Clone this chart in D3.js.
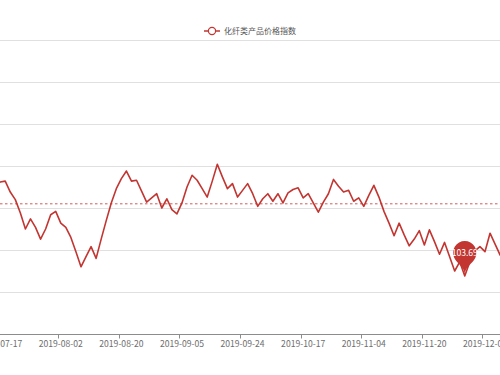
<!DOCTYPE html>
<html>
<head>
<meta charset="utf-8">
<script src="https://cdn.jsdelivr.net/npm/d3@7"></script>
<style>
  body { margin: 0; background: #fff; }
  svg { display: block; }
</style>
</head>
<body>
<div id="vis"></div>
<script>
let WIDTH = 500;
let HEIGHT = 375;
let GRID = {top: 40, bottom: 334};
const FONT = "'Noto Sans CJK SC', 'Noto Sans', sans-serif";

const seriesName = "化纤类产品价格指数";

// trading days (visible window of a longer series)
const dates = [
  "2019-07-16", "2019-07-17", "2019-07-18", "2019-07-19", "2019-07-22", "2019-07-23", "2019-07-24",
  "2019-07-25", "2019-07-26", "2019-07-29", "2019-07-30", "2019-07-31", "2019-08-01", "2019-08-02",
  "2019-08-05", "2019-08-06", "2019-08-07", "2019-08-08", "2019-08-09", "2019-08-12", "2019-08-13",
  "2019-08-14", "2019-08-15", "2019-08-16", "2019-08-19", "2019-08-20", "2019-08-21", "2019-08-22",
  "2019-08-23", "2019-08-26", "2019-08-27", "2019-08-28", "2019-08-29", "2019-08-30", "2019-09-02",
  "2019-09-03", "2019-09-04", "2019-09-05", "2019-09-06", "2019-09-09", "2019-09-10", "2019-09-11",
  "2019-09-12", "2019-09-16", "2019-09-17", "2019-09-18", "2019-09-19", "2019-09-20", "2019-09-23",
  "2019-09-24", "2019-09-25", "2019-09-26", "2019-09-27", "2019-09-30", "2019-10-08", "2019-10-09",
  "2019-10-10", "2019-10-11", "2019-10-14", "2019-10-15", "2019-10-16", "2019-10-17", "2019-10-18",
  "2019-10-21", "2019-10-22", "2019-10-23", "2019-10-24", "2019-10-25", "2019-10-28", "2019-10-29",
  "2019-10-30", "2019-10-31", "2019-11-01", "2019-11-04", "2019-11-05", "2019-11-06", "2019-11-07",
  "2019-11-08", "2019-11-11", "2019-11-12", "2019-11-13", "2019-11-14", "2019-11-15", "2019-11-18",
  "2019-11-19", "2019-11-20", "2019-11-21", "2019-11-22", "2019-11-25", "2019-11-26", "2019-11-27",
  "2019-11-28", "2019-11-29", "2019-12-02", "2019-12-03", "2019-12-04", "2019-12-05", "2019-12-06",
  "2019-12-09", "2019-12-10", "2019-12-11", "2019-12-12"
];

const values = [
  104.76, 104.81, 104.82, 104.69, 104.60, 104.44, 104.25,
  104.37, 104.27, 104.13, 104.25, 104.42, 104.46, 104.32,
  104.27, 104.15, 103.98, 103.80, 103.92, 104.04, 103.90,
  104.13, 104.35, 104.56, 104.73, 104.85, 104.94, 104.82,
  104.83, 104.70, 104.57, 104.62, 104.67, 104.50, 104.61,
  104.48, 104.43, 104.56, 104.75, 104.89, 104.83, 104.73,
  104.63, 104.82, 105.02, 104.87, 104.73, 104.79, 104.63,
  104.71, 104.79, 104.67, 104.52, 104.61, 104.67, 104.58,
  104.67, 104.56, 104.68, 104.72, 104.74, 104.62, 104.67,
  104.56, 104.45, 104.57, 104.67, 104.84, 104.76, 104.69,
  104.71, 104.58, 104.62, 104.52, 104.65, 104.77, 104.63,
  104.46, 104.32, 104.17, 104.32, 104.18, 104.05, 104.13,
  104.23, 104.06, 104.24, 104.10, 103.95, 104.09, 103.92,
  103.75, 103.86, 103.69, 103.86, 103.99, 104.04, 103.98,
  104.20, 104.07, 103.94, 103.86
];

const tickLabels = ["2019-07-17", "2019-08-02", "2019-08-20", "2019-09-05", "2019-09-24",
                    "2019-10-17", "2019-11-04", "2019-11-20", "2019-12-06"];
const yTicks = [103, 103.5, 104, 104.5, 105, 105.5, 106, 106.5];
const averageValue = 104.55;

const data = dates.map((d, i) => ({date: d, value: values[i]}));

const FRAME = d3.select("#vis")
  .append("svg")
    .attr("width", WIDTH)
    .attr("height", HEIGHT);

const STEP = 5.05;
const X = d3.scaleBand()
  .domain(dates)
  .range([-7.4, -7.4 + dates.length * STEP]);
const Y = d3.scaleLinear()
  .domain([103, 106.5])
  .range([GRID.bottom, GRID.top]);

const cx = (d) => X(d) + X.bandwidth() / 2;

// split lines
FRAME.append("g")
  .call(d3.axisRight(Y).tickValues(yTicks).tickSize(WIDTH).tickFormat(""))
  .call(g => g.select(".domain").remove())
  .call(g => g.selectAll("line").attr("stroke", "#e0e0e0"));

// average mark line
FRAME.append("line")
  .attr("x1", 0).attr("x2", WIDTH)
  .attr("y1", Y(averageValue)).attr("y2", Y(averageValue))
  .attr("stroke", "#c23531")
  .attr("stroke-opacity", 0.8)
  .attr("stroke-width", 1)
  .attr("stroke-dasharray", "2.5,2.5");

// series line
FRAME.append("path")
  .datum(data)
  .attr("fill", "none")
  .attr("stroke", "#c23531")
  .attr("stroke-width", 1.6)
  .attr("stroke-linejoin", "round")
  .attr("d", d3.line().x(d => cx(d.date)).y(d => Y(d.value)));

// x axis
const xAxis = FRAME.append("g")
  .attr("transform", "translate(0," + GRID.bottom + ")");
xAxis.append("line")
  .attr("x1", 0).attr("x2", WIDTH)
  .attr("y1", 0.5).attr("y2", 0.5)
  .attr("stroke", "#8c8c8c");
xAxis.selectAll(".tick")
  .data(tickLabels)
  .enter()
  .append("line")
    .attr("x1", d => Math.round(X(d)) + 0.5)
    .attr("x2", d => Math.round(X(d)) + 0.5)
    .attr("y1", 0).attr("y2", 4.5)
    .attr("stroke", "#8c8c8c");
xAxis.selectAll(".lbl")
  .data(tickLabels)
  .enter()
  .append("text")
    .attr("x", d => cx(d))
    .attr("y", 13)
    .attr("text-anchor", "middle")
    .attr("font-family", FONT)
    .attr("font-size", "8.6px")
    .attr("fill", "#6e6e6e")
    .text(d => d);

// min mark point (pin)
function pinPath(x, y, S) {
  const w = S * 0.6, h = S, r = w / 2;
  const dy = r * r / (h - r);
  const cy = y - h + r + dy;
  const a = Math.asin(dy / r);
  const dx = Math.cos(a) * r;
  const tx = Math.sin(a), ty = Math.cos(a);
  const c1 = r * 0.6, c2 = r * 0.7;
  const p = d3.path();
  p.moveTo(x - dx, cy + dy);
  p.arc(x, cy, r, Math.PI - a, Math.PI * 2 + a);
  p.bezierCurveTo(x + dx - tx * c1, cy + dy + ty * c1, x, y - c2, x, y);
  p.bezierCurveTo(x, y - c2, x - dx + tx * c1, cy + dy + ty * c1, x - dx, cy + dy);
  p.closePath();
  return {d: p.toString(), cy: cy};
}
const minIdx = d3.minIndex(values);
const PIN = 39;
const pin = pinPath(cx(dates[minIdx]), Y(values[minIdx]) - 1, PIN);
FRAME.append("path")
  .attr("d", pin.d)
  .attr("fill", "#c23531");
FRAME.append("text")
  .attr("x", cx(dates[minIdx]))
  .attr("y", pin.cy + 3)
  .attr("text-anchor", "middle")
  .attr("font-family", FONT)
  .attr("font-size", "8.6px")
  .attr("fill", "#fff")
  .text(values[minIdx].toFixed(2));

// legend
const legend = FRAME.append("g").attr("transform", "translate(204,31)");
legend.append("line")
  .attr("x1", 0).attr("x2", 16)
  .attr("stroke", "#c23531")
  .attr("stroke-width", 1.5);
legend.append("circle")
  .attr("cx", 8).attr("r", 3.6)
  .attr("fill", "#fff")
  .attr("stroke", "#c23531")
  .attr("stroke-width", 1.2);
legend.append("text")
  .attr("x", 20)
  .attr("y", 3)
  .attr("font-family", FONT)
  .attr("font-size", "8px")
  .attr("fill", "#555")
  .text(seriesName);
</script>
</body>
</html>
